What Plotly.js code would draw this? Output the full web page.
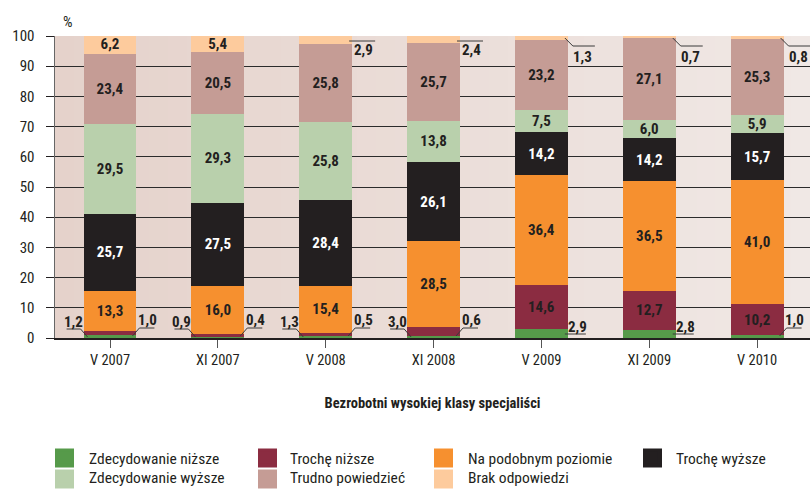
<!DOCTYPE html>
<html><head><meta charset="utf-8">
<script src="https://cdn.plot.ly/plotly-3.0.1.min.js"></script>
<style>html,body{margin:0;padding:0;background:#fff}#chart{width:810px;height:494px}
svg text{font-stretch:condensed !important}</style>
</head><body><div id="chart"></div>
<script>
const categories = ['V 2007','XI 2007','V 2008','XI 2008','V 2009','XI 2009','V 2010'];
const zdecNizsze = [1.0, 0.4, 0.5, 0.6, 2.9, 2.8, 1.0];
const trocheNizsze = [1.2, 0.9, 1.3, 3.0, 14.6, 12.7, 10.2];
const podobny = [13.3, 16.0, 15.4, 28.5, 36.4, 36.5, 41.0];
const trocheWyzsze = [25.7, 27.5, 28.4, 26.1, 14.2, 14.2, 15.7];
const zdecWyzsze = [29.5, 29.3, 25.8, 13.8, 7.5, 6.0, 5.9];
const trudno = [23.4, 20.5, 25.8, 25.7, 23.2, 27.1, 25.3];
const brak = [6.2, 5.4, 2.9, 2.4, 1.3, 0.7, 0.8];
const seriesNames = ['Zdecydowanie niższe','Trochę niższe','Na podobnym poziomie','Trochę wyższe','Zdecydowanie wyższe','Trudno powiedzieć','Brak odpowiedzi'];
const yTicks = [0,10,20,30,40,50,60,70,80,90,100];
const axisTitle = 'Bezrobotni wysokiej klasy specjaliści';

const FONT = "Roboto, sans-serif";
const DARK = '#231f20';
const colors = ['#569a4a','#8b2c41','#f6902f','#231f20','#b9d0ac','#c59c95','#fdcb9d'];
const seriesVals = [zdecNizsze, trocheNizsze, podobny, trocheWyzsze, zdecWyzsze, trudno, brak];
const fmt = v => v.toFixed(1).replace('.', ',');
const HALF = 0.245;

// legend layout (pixels): text start x, row centre y, swatch left x
const legendPos = [
  {tx: 89, y: 458, sx: 55, row: 1}, {tx: 290, y: 458, sx: 258, row: 1}, {tx: 468, y: 458, sx: 434, row: 1}, {tx: 676, y: 458, sx: 643, row: 1},
  {tx: 89, y: 479, sx: 55, row: 2}, {tx: 290, y: 479, sx: 258, row: 2}, {tx: 468, y: 479, sx: 434, row: 2}
];
const ITEMW = 39, TEXTGAP = ITEMW + 10;

const traces = seriesVals.map((vals, k) => ({
  type: 'bar',
  name: seriesNames[k],
  x: categories.map((c, i) => i),
  y: vals,
  marker: {color: colors[k], line: {width: 0}},
  text: vals.map(v => v >= 5 ? '<b>' + fmt(v) + '</b>' : ''),
  textposition: 'inside',
  insidetextanchor: 'middle',
  textangle: 0,
  constraintext: 'none',
  textfont: {family: FONT, size: 15, color: k === 3 ? '#ffffff' : DARK},
  hoverinfo: 'skip',
  legend: k === 0 ? 'legend' : 'legend' + (k + 1),
  width: 0.49
}));

const shapes = [];
const N = 40;
const c0 = [229, 210, 203], c1 = [240, 232, 229];
for (let s = 0; s < N; s++) {
  const t = s / (N - 1);
  const c = c0.map((v, j) => Math.round(v + (c1[j] - v) * t));
  shapes.push({type: 'rect', xref: 'paper', yref: 'paper', x0: s / N, x1: (s + 1) / N + 0.002, y0: 0, y1: 1,
    fillcolor: 'rgb(' + c.join(',') + ')', line: {width: 0}, layer: 'below'});
}

const annotations = [];
const lead = '#3a3a3a';
function addLeader(xa, ya, path, dx, dy, txt) {
  shapes.push({type: 'path', xref: 'x', yref: 'y', xsizemode: 'pixel', ysizemode: 'pixel',
    xanchor: xa, yanchor: ya, path: path, line: {color: lead, width: 1}, layer: 'above'});
  annotations.push({x: xa, y: ya, xref: 'x', yref: 'y', xshift: dx, yshift: dy, text: '<b>' + txt + '</b>',
    showarrow: false, xanchor: 'center', yanchor: 'middle', font: {family: FONT, size: 15, color: DARK}});
}
categories.forEach((c, i) => {
  if (trocheNizsze[i] < 5) addLeader(i - HALF, 0, 'M4,1 L-3,9 L-17,9', -10, 16, fmt(trocheNizsze[i]));
  if (zdecNizsze[i] < 5) {
    if (zdecNizsze[i] < 1.5) addLeader(i + HALF, 0, 'M-4,2 L3,10 L18,10', 11, 18, fmt(zdecNizsze[i]));
    else addLeader(i + HALF, 0, 'M-3,4 L18,4', 10, 11, fmt(zdecNizsze[i]));
  }
  if (brak[i] < 5) {
    if (brak[i] < 2) addLeader(i + HALF, 100, 'M-3,-2 L5,-10 L27,-10', 15, -21, fmt(brak[i]));
    else addLeader(i + HALF, 100, 'M-3,-5 L23,-5', 11, -14, fmt(brak[i]));
  }
});
annotations.push({xref: 'paper', yref: 'paper', x: (68 - 55) / 755, y: 1 + (36 - 22) / 302, text: '%',
  showarrow: false, xanchor: 'center', yanchor: 'middle', font: {family: FONT, size: 15, color: DARK}});

// enlarged legend swatches (paper coordinates from pixels)
const px2x = p => (p - 55) / 755, px2y = p => (338 - p) / 302;
legendPos.forEach((p, k) => {
  shapes.push({type: 'rect', xref: 'paper', yref: 'paper', x0: px2x(p.sx), x1: px2x(p.sx + 19),
    y0: px2y(p.y - 9.5), y1: px2y(p.y + 9.5), fillcolor: colors[k], line: {width: 0}, layer: 'above'});
});

const layout = {
  width: 810, height: 494,
  margin: {l: 55, r: 0, t: 36, b: 156, autoexpand: false},
  paper_bgcolor: '#ffffff', plot_bgcolor: '#ebdcd7',
  font: {family: FONT, size: 15, color: DARK},
  barmode: 'stack',
  xaxis: {
    range: [-0.51, 6.49], tickvals: categories.map((c, i) => i), ticktext: categories, tickangle: 0,
    showline: true, linecolor: DARK, linewidth: 1.5, ticks: 'outside', ticklen: 8, tickcolor: '#555',
    showgrid: false, zeroline: false, fixedrange: true, automargin: false,
    tickfont: {family: FONT, size: 14.5, color: DARK},
    title: {text: '<b>' + axisTitle + '</b>', standoff: 30, font: {family: FONT, size: 14.5, color: DARK}}
  },
  yaxis: {
    range: [0, 100], tickvals: yTicks, showline: true, linecolor: '#666', linewidth: 1.5,
    ticks: 'outside', ticklen: 8, tickcolor: DARK, gridcolor: '#2b2b2b', gridwidth: 1,
    zeroline: false, fixedrange: true, ticklabelstandoff: 8, automargin: false,
    tickfont: {family: FONT, size: 15, color: DARK}
  },
  shapes: shapes,
  annotations: annotations,
  showlegend: true
};
legendPos.forEach((p, k) => {
  const key = k === 0 ? 'legend' : 'legend' + (k + 1);
  layout[key] = {xref: 'container', yref: 'container', x: (p.tx - TEXTGAP) / 810,
    y: p.row === 1 ? 1 - p.y / 494 : 0, yanchor: p.row === 1 ? 'middle' : 'bottom',
    xanchor: 'left', bgcolor: 'rgba(0,0,0,0)', borderwidth: 0, itemwidth: ITEMW,
    font: {family: FONT, size: 15.5, color: DARK}};
});
Plotly.newPlot('chart', traces, layout, {staticPlot: true, displayModeBar: false});
</script></body></html>
